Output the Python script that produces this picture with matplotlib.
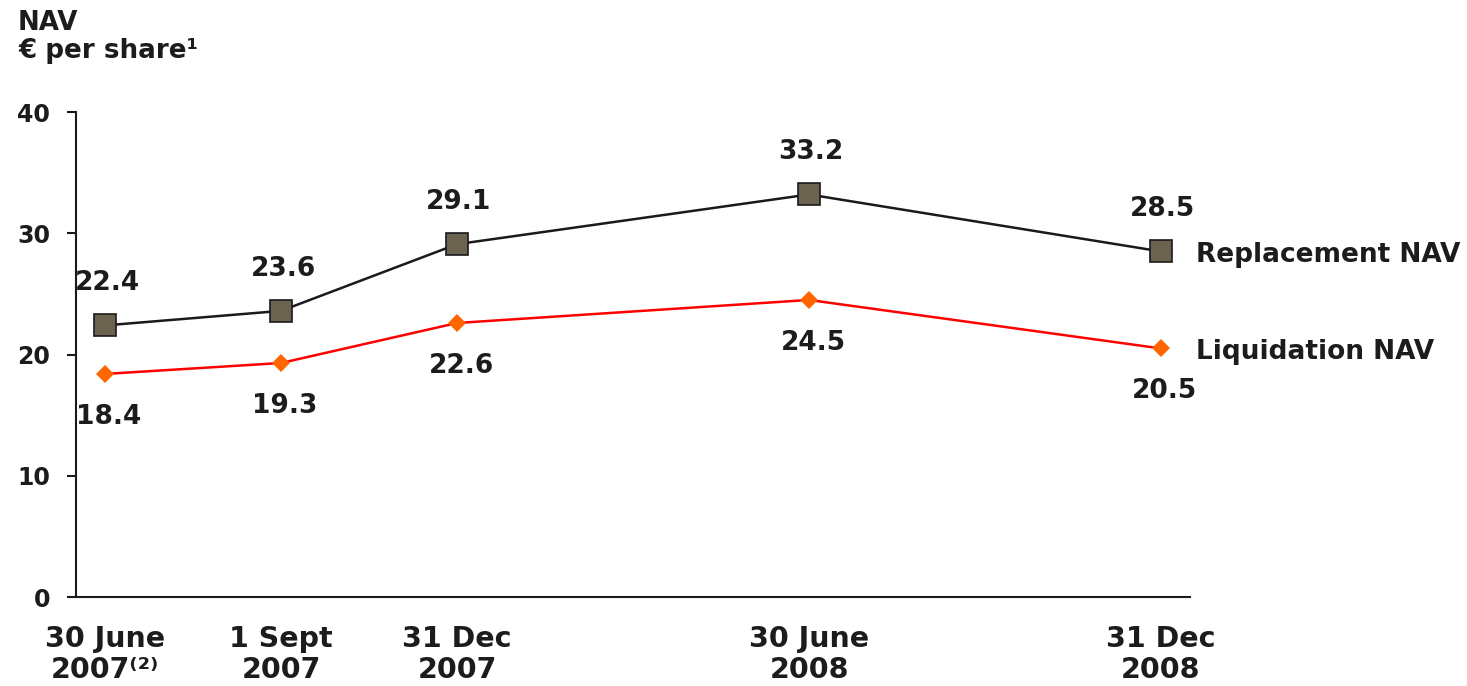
import matplotlib
matplotlib.use('Agg')
import matplotlib.pyplot as plt

plt.rcParams['font.family'] = ['DejaVu Sans']
plt.rcParams['font.weight'] = 'bold'

# data
dates = ['30 June\n2007\u207d\u00b2\u207e', '1 Sept\n2007', '31 Dec\n2007', '30 June\n2008', '31 Dec\n2008']
x_pos = [0, 1, 2, 4, 6]
replacement_nav = [22.4, 23.6, 29.1, 33.2, 28.5]
liquidation_nav = [18.4, 19.3, 22.6, 24.5, 20.5]
series_names = ['Replacement NAV', 'Liquidation NAV']
y_ticks = [0, 10, 20, 30, 40]

txt = '#1c1c1c'

fig = plt.figure(figsize=(14.67, 6.86), dpi=100)
ax = fig.add_axes([0.0518, 0.1297, 0.7594, 0.707])

ax.plot(x_pos, replacement_nav, color='#1a1a1a', lw=1.8, marker='s', ms=16.5,
        mfc='#6b6350', mec='#1a1a1a', mew=1.2, zorder=3)
ax.plot(x_pos, liquidation_nav, color='#ff0000', lw=1.8, marker='D', ms=9.5,
        mfc='#ff6600', mec='#ff6600', mew=0, zorder=3)

# value labels
for xv, v in zip(x_pos, replacement_nav):
    ax.annotate(f'{v:.1f}', (xv, v), xytext=(2, 42), textcoords='offset pixels',
                ha='center', va='center', fontsize=19, fontweight='bold', color=txt)
for xv, v in zip(x_pos, liquidation_nav):
    ax.annotate(f'{v:.1f}', (xv, v), xytext=(4, -43), textcoords='offset pixels',
                ha='center', va='center', fontsize=19, fontweight='bold', color=txt)

# series names next to last points
for name, vals in zip(series_names, [replacement_nav, liquidation_nav]):
    ax.annotate(name, (x_pos[-1], vals[-1]), xytext=(35, -4), textcoords='offset pixels',
                ha='left', va='center', fontsize=19, fontweight='bold', color=txt,
                annotation_clip=False)

ax.set_xlim(-0.165, 6.165)
ax.set_ylim(0, 40)
ax.set_xticks(x_pos)
ax.set_xticklabels(dates, fontsize=20.5, fontweight='bold', color=txt, linespacing=1.15)
ax.set_yticks(y_ticks)
ax.set_yticklabels([str(t) for t in y_ticks], fontsize=17, fontweight='bold', color=txt)
ax.tick_params(axis='x', length=0, pad=20)
ax.tick_params(axis='y', length=6.5, width=1.5, direction='out', pad=12, color='#1a1a1a')

for s in ['top', 'right']:
    ax.spines[s].set_visible(False)
for s in ['left', 'bottom']:
    ax.spines[s].set_linewidth(1.5)
    ax.spines[s].set_color('#1a1a1a')

fig.text(18 / 1467, 1 - 10 / 686, 'NAV\n\u20ac per share\u00b9', ha='left', va='top',
         fontsize=18.8, fontweight='bold', color=txt, linespacing=1.1)

fig.savefig('out.png', dpi=100)
